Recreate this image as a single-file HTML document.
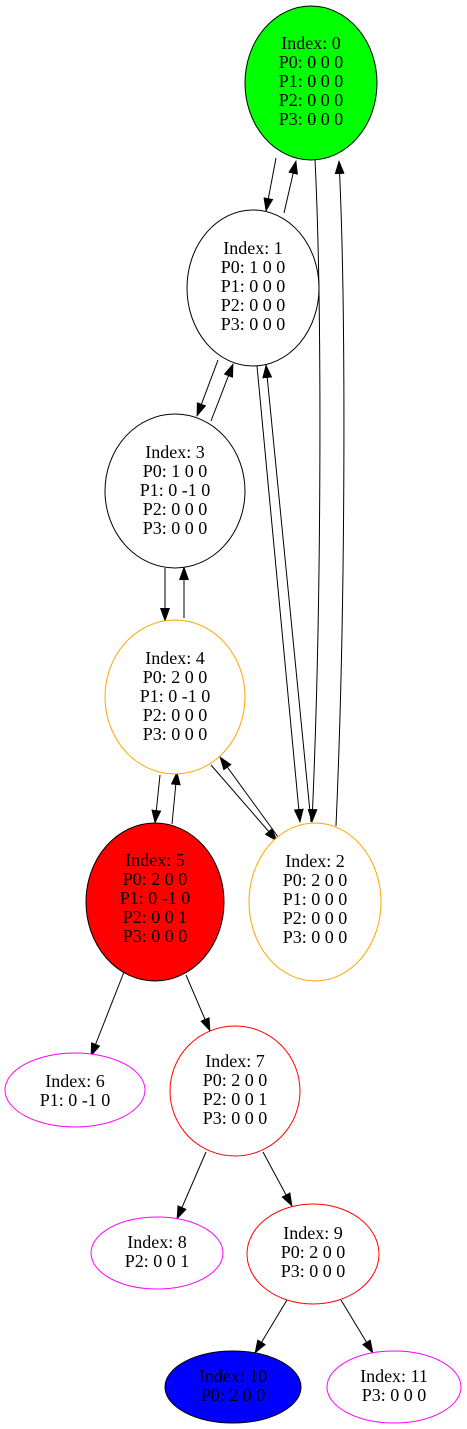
<!DOCTYPE html>
<html><head><meta charset="utf-8"><style>
html,body{margin:0;padding:0;background:#fff;}
svg{display:block;}
text{font-family:"Liberation Serif",serif;font-size:18px;text-anchor:middle;fill:#000;}
</style></head><body>
<svg width="467" height="1429" viewBox="0 0 467 1429" xmlns="http://www.w3.org/2000/svg">
<defs><marker id="a" markerWidth="14" markerHeight="10" refX="13" refY="5" orient="auto" markerUnits="userSpaceOnUse"><path d="M0,0 L14,5 L0,10 z" fill="#000"/></marker></defs>
<g stroke="#000" stroke-width="1" fill="none" marker-end="url(#a)">
<line x1="276" y1="158" x2="266" y2="211"/>
<line x1="284" y1="213" x2="296" y2="161"/>
<path d="M315,160 C322,300 322,600 312,822"/>
<path d="M336,826 C346,600 346,300 339,161"/>
<line x1="218" y1="360" x2="197" y2="416"/>
<line x1="211" y1="421" x2="233" y2="364"/>
<line x1="257" y1="366" x2="300" y2="822"/>
<line x1="311" y1="822" x2="266" y2="365"/>
<line x1="165" y1="568" x2="165" y2="621"/>
<line x1="184" y1="618" x2="184" y2="567"/>
<line x1="211" y1="765" x2="277" y2="841"/>
<line x1="281" y1="841" x2="220" y2="757"/>
<line x1="160" y1="775" x2="155" y2="823"/>
<line x1="172" y1="824" x2="177" y2="772"/>
<line x1="124" y1="972" x2="91" y2="1056"/>
<line x1="186" y1="975" x2="210" y2="1031"/>
<line x1="206" y1="1152" x2="177" y2="1219"/>
<line x1="263" y1="1152" x2="292" y2="1206"/>
<line x1="287" y1="1300" x2="255" y2="1353"/>
<line x1="341" y1="1300" x2="373" y2="1353"/>
</g>
<ellipse cx="311" cy="83" rx="66" ry="77" fill="#00ff00" stroke="#000"/>
<ellipse cx="253" cy="288" rx="66" ry="78" fill="#fff" stroke="#000"/>
<ellipse cx="175" cy="491" rx="70" ry="77" fill="#fff" stroke="#000"/>
<ellipse cx="175" cy="697" rx="70" ry="77" fill="#fff" stroke="orange"/>
<ellipse cx="155" cy="902" rx="69" ry="79" fill="#ff0000" stroke="#000"/>
<ellipse cx="315" cy="902" rx="66" ry="79" fill="#fff" stroke="orange"/>
<ellipse cx="75" cy="1090" rx="70" ry="37" fill="#fff" stroke="magenta"/>
<ellipse cx="235" cy="1091" rx="65" ry="65" fill="#fff" stroke="red"/>
<ellipse cx="157" cy="1253" rx="66" ry="36" fill="#fff" stroke="magenta"/>
<ellipse cx="313" cy="1254" rx="66" ry="50" fill="#fff" stroke="red"/>
<ellipse cx="233" cy="1387" rx="68" ry="36" fill="#0000ff" stroke="#000"/>
<ellipse cx="394" cy="1387" rx="67" ry="36" fill="#fff" stroke="magenta"/>
<text x="311" y="49">Index: 0</text><text x="311" y="68">P0: 0 0 0</text><text x="311" y="87">P1: 0 0 0</text><text x="311" y="106">P2: 0 0 0</text><text x="311" y="125">P3: 0 0 0</text>
<text x="253" y="254">Index: 1</text><text x="253" y="273">P0: 1 0 0</text><text x="253" y="292">P1: 0 0 0</text><text x="253" y="311">P2: 0 0 0</text><text x="253" y="330">P3: 0 0 0</text>
<text x="175" y="458">Index: 3</text><text x="175" y="477">P0: 1 0 0</text><text x="175" y="496">P1: 0 -1 0</text><text x="175" y="515">P2: 0 0 0</text><text x="175" y="534">P3: 0 0 0</text>
<text x="175" y="664">Index: 4</text><text x="175" y="683">P0: 2 0 0</text><text x="175" y="702">P1: 0 -1 0</text><text x="175" y="721">P2: 0 0 0</text><text x="175" y="740">P3: 0 0 0</text>
<text x="155" y="866">Index: 5</text><text x="155" y="885">P0: 2 0 0</text><text x="155" y="904">P1: 0 -1 0</text><text x="155" y="923">P2: 0 0 1</text><text x="155" y="942">P3: 0 0 0</text>
<text x="315" y="867">Index: 2</text><text x="315" y="886">P0: 2 0 0</text><text x="315" y="905">P1: 0 0 0</text><text x="315" y="924">P2: 0 0 0</text><text x="315" y="943">P3: 0 0 0</text>
<text x="75" y="1087">Index: 6</text><text x="75" y="1106">P1: 0 -1 0</text>
<text x="235" y="1067">Index: 7</text><text x="235" y="1086">P0: 2 0 0</text><text x="235" y="1105">P2: 0 0 1</text><text x="235" y="1124">P3: 0 0 0</text>
<text x="157" y="1248">Index: 8</text><text x="157" y="1267">P2: 0 0 1</text>
<text x="313" y="1239">Index: 9</text><text x="313" y="1258">P0: 2 0 0</text><text x="313" y="1277">P3: 0 0 0</text>
<text x="233" y="1382">Index: 10</text><text x="233" y="1401">P0: 2 0 0</text>
<text x="394" y="1382">Index: 11</text><text x="394" y="1401">P3: 0 0 0</text>
</svg>
</body></html>
